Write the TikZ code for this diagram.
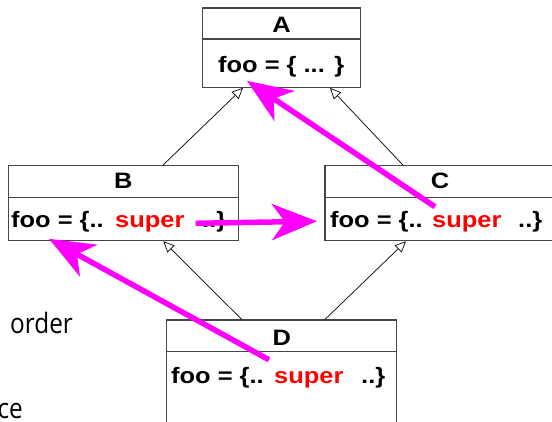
\documentclass[tikz,border=0pt]{standalone}
\usepackage{fontspec}
\setmainfont{Liberation Sans}[FakeStretch=1.14]
\newfontfamily\notefont{Open Sans}[FakeStretch=0.87]
\usetikzlibrary{arrows.meta}
\definecolor{boxgray}{RGB}{70,70,70}
\definecolor{superred}{RGB}{255,0,0}
\definecolor{mromagenta}{RGB}{255,0,255}

\tikzset{
  classbox/.style={draw=boxgray, line width=1.2pt, inner sep=0pt},
  divider/.style={draw=boxgray, line width=1.2pt},
  classtext/.style={inner sep=0pt, font=\fontsize{22.3}{27}\selectfont\bfseries},
  supertext/.style={classtext, text=superred, anchor=base west},
  inherit/.style={line width=0.7pt, -{Triangle[open, length=11pt, width=10pt]}},
  superarrow/.style={mromagenta, line width=5.5pt, -{Stealth[length=45pt, width=36pt, inset=13pt]}},
  notetext/.style={inner sep=0pt, anchor=base west, font=\notefont\fontsize{28}{32}\selectfont}
}

\begin{document}
\begin{tikzpicture}[x=1pt, y=-1pt]
\useasboundingbox (0,0) rectangle (552,421);
\clip (0,0) rectangle (552,421);

% class boxes
\node[classbox, minimum width=158.4pt, minimum height=79.3pt] (A) at (281.5,47.6) {};
\node[classbox, minimum width=230pt, minimum height=75pt] (B) at (123.3,203.2) {};
\node[classbox, minimum width=230pt, minimum height=75pt] (C) at (440,203.2) {};
\node[classbox, minimum width=230pt, minimum height=130pt] (D) at (281.7,385) {};

\foreach \cls/\gap in {A/31.7, B/32, C/32, D/32.3}
  \draw[divider] ([yshift=-\gap pt]\cls.north west) -- ([yshift=-\gap pt]\cls.north east);

% titles
\node[classtext, anchor=base] (Atitle) at (281.5,32) {A};
\node[classtext, anchor=base] (Btitle) at (123.3,188) {B};
\node[classtext, anchor=base] (Ctitle) at (440,188) {C};
\node[classtext, anchor=base] (Dtitle) at (281.7,345) {D};

% method bodies
\node[classtext, anchor=base west] (Afoo) at (218,72) {foo = \{ ... \}};

\node[classtext, anchor=base west] (Bfoo) at (11,227) {foo = \{..};
\node[supertext] (Bsuper) at (115,227) {super};
\node[classtext, anchor=base west] (Bend) at (202,227) {..\}};

\node[classtext, anchor=base west] (Cfoo) at (330,227) {foo = \{..};
\node[supertext] (Csuper) at (432,227) {super};
\node[classtext, anchor=base west] (Cend) at (518,227) {..\}};

\node[classtext, anchor=base west] (Dfoo) at (171,383) {foo = \{..};
\node[supertext] (Dsuper) at (274,383) {super};
\node[classtext, anchor=base west] (Dend) at (361,383) {..\}};

% inheritance
\draw[inherit] ([xshift=39.7pt]B.north) -- ([xshift=-38.5pt]A.south);
\draw[inherit] ([xshift=-37pt]C.north) -- ([xshift=48.5pt]A.south);
\draw[inherit] ([xshift=-40pt]D.north) -- ([xshift=40pt]B.south);
\draw[inherit] ([xshift=43.3pt]D.north) -- ([xshift=-34pt]C.south);

% side notes
\node[notetext] (order) at (10,333) {order};
\node[notetext, anchor=base east] (ce) at (23,418) {ce};

% super calls
\draw[superarrow] ([shift={(3pt,8pt)}]Csuper.north west) -- ([shift={(29pt,-4pt)}]Afoo.south west);
\draw[superarrow] ([xshift=11pt]Bsuper.east) -- ([xshift=-13pt]Cfoo.west);
\draw[superarrow] ([shift={(-5pt,11pt)}]Dsuper.north west) -- ([shift={(38pt,-7pt)}]Bfoo.south west);
\end{tikzpicture}
\end{document}
